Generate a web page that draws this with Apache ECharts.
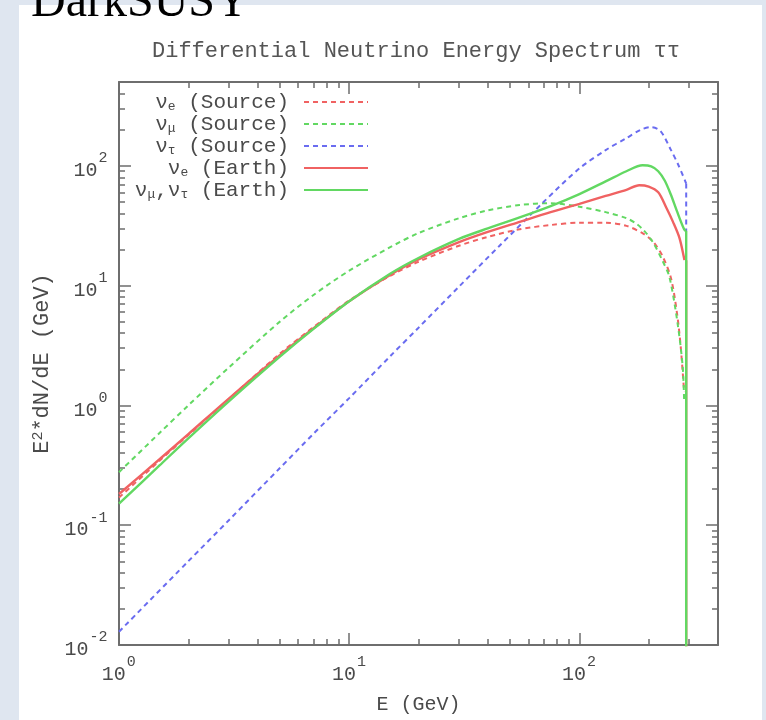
<!DOCTYPE html>
<html>
<head>
<meta charset="utf-8">
<title>DarkSUSY – Differential Neutrino Energy Spectrum</title>
<script src="https://cdn.jsdelivr.net/npm/echarts@6/dist/echarts.min.js"></script>
<style>
  html, body { margin: 0; padding: 0; background: #dfe6f0; }
  #chart { width: 766px; height: 720px; }
</style>
</head>
<body>
<div id="chart"></div>
<script>
// Axis ranges and tick positions (E in GeV, E^2 dN/dE in GeV)
const xRange = [1, 400];
const yRange = [0.01, 500];
const xMajorTicks = [1, 10, 100];
const yMajorTicks = [0.01, 0.1, 1, 10, 100];

// Legend labels, one per curve
const seriesNames = ['νe (Source)', 'νμ (Source)', 'ντ (Source)', 'νe (Earth)', 'νμ,ντ (Earth)'];

// nu_e at the source
const nueSourceE = [1, 1.5, 2, 3, 5, 7, 10, 15, 20, 30, 40, 55, 75, 100, 130, 160, 190, 210, 230, 250, 265, 275, 285];
const nueSourceV = [0.17, 0.345, 0.565, 1.13, 2.7, 4.5, 7.5, 12, 15.8, 21.5, 25.5, 29.5, 32, 33.5, 33.5, 31.5, 27, 23, 17.5, 11.5, 6, 3.2, 1.3];

// nu_mu at the source
const numuSourceE = [1, 1.5, 2, 3, 5, 7, 10, 15, 20, 30, 40, 55, 75, 100, 130, 160, 176, 190, 208, 230, 246, 267, 281, 285];
const numuSourceV = [0.277, 0.588, 1.0, 2.07, 5.0, 8.34, 13.3, 20.8, 27.4, 36.5, 42.4, 47, 48.7, 45.5, 41, 36.5, 33, 29, 23.2, 16, 11.8, 4.84, 2.1, 1.11];

// nu_tau at the source
const nutauSourceE = [1, 2, 3, 5, 7, 10, 15, 20, 30, 45, 70, 100, 130, 160, 185, 205, 225, 250, 270, 291];
const nutauSourceV = [0.0129, 0.05, 0.11, 0.3, 0.58, 1.15, 2.55, 4.45, 9.8, 21.5, 50, 95, 135, 170, 200, 210, 195, 135, 100, 71];

// nu_e at the Earth
const nueEarthE = [1, 1.5, 2, 3, 5, 7, 10, 15, 20, 30, 40, 55, 75, 100, 130, 160, 182, 200, 220, 238, 255, 272, 286];
const nueEarthV = [0.182, 0.355, 0.575, 1.14, 2.62, 4.4, 7.4, 12.2, 16.5, 23, 28, 34, 41, 48, 56, 63, 68.8, 67, 60, 45, 34, 25, 16.3];

// nu_mu, nu_tau at the Earth
const numuEarthE = [1, 1.5, 2, 3, 5, 7, 10, 15, 20, 30, 40, 55, 75, 100, 130, 160, 188, 205, 220, 235, 250, 265, 285, 291];
const numuEarthV = [0.151, 0.315, 0.53, 1.08, 2.55, 4.35, 7.4, 12.5, 17, 24.5, 30, 37, 46, 58, 74, 90, 101, 99, 90, 75, 57, 42, 29.5, 28.5];

// Cut-off at the end of the spectrum: each curve falls straight down here
const cutoffE = 291;
const nutauSourceDrop = [71, 28.5];
const nueEarthDrop = [16.3, 1e-4];
const numuEarthDrop = [28.5, 1e-4];

// Minor ticks at 2..9 of every decade inside a range
function minorTicks(lo, hi) {
  const out = [];
  for (let d = Math.floor(Math.log10(lo)); d <= Math.ceil(Math.log10(hi)); d++) {
    for (let m = 2; m <= 9; m++) {
      const v = +(m * Math.pow(10, d)).toPrecision(6);
      if (v > lo && v < hi) out.push(v);
    }
  }
  return out;
}
const xMinorTicks = minorTicks(xRange[0], xRange[1]);
const yMinorTicks = minorTicks(yRange[0], yRange[1]);

const pair = (xs, ys) => xs.map((x, i) => [x, ys[i]]);

const MONO = '"Liberation Mono", "DejaVu Sans Mono", monospace';
const TEXT = '#4a4a4a';
const FRAME = '#6e6e6e';
const RED = '#f06262';
const GREEN = '#62d862';
const BLUE = '#6a6cf0';

// "10" with the exponent raised as a superscript; the tiny strut sets a taller line
function powerLabel(v) {
  const e = Math.round(Math.log10(v));
  return '{b|10}{sup|' + e + '}{h| }';
}
const labelRich = {
  b: { fontFamily: MONO, fontSize: 20, color: TEXT, lineHeight: 20, verticalAlign: 'bottom' },
  sup: { fontFamily: MONO, fontSize: 15, color: TEXT, lineHeight: 15, verticalAlign: 'top', padding: [0, 0, 0, 1] },
  h: { fontFamily: MONO, fontSize: 1, lineHeight: 30 }
};

function logAxis(kind, position, ticks, tickLen, opts) {
  const range = kind === 'x' ? xRange : yRange;
  const axis = {
    type: 'log', logBase: 10, gridIndex: 0, position: position,
    min: range[0], max: range[1],
    splitLine: { show: false },
    minorTick: { show: false },
    minorSplitLine: { show: false },
    axisLine: { show: !!opts.line, lineStyle: { color: FRAME, width: 2 } },
    axisTick: { show: true, inside: true, length: tickLen, customValues: ticks,
                lineStyle: { color: FRAME, width: 1.5 } },
    axisLabel: { show: false },
    axisPointer: { show: false },
    silent: true
  };
  if (opts.labels) {
    axis.axisLabel = {
      show: true, customValues: ticks, formatter: powerLabel,
      fontFamily: MONO, fontSize: 20, color: TEXT, margin: opts.margin,
      rich: labelRich
    };
  }
  if (opts.name) {
    Object.assign(axis, opts.name);
  }
  return axis;
}

function lineSeries(name, data, color, dashed, smooth) {
  return {
    name: name, type: 'line', data: data,
    symbol: 'none', showSymbol: false,
    smooth: smooth, clip: true,
    lineStyle: { color: color, width: dashed ? 2 : 2.4, type: dashed ? [5, 4] : 'solid' },
    itemStyle: { color: color },
    emphasis: { disabled: true },
    animation: false
  };
}

const chart = echarts.init(document.getElementById('chart'), null, { renderer: 'canvas' });

chart.setOption({
  backgroundColor: '#dfe6f0',
  animation: false,
  graphic: [
    { type: 'rect', z: -10, silent: true,
      shape: { x: 19, y: 5, width: 743, height: 720 },
      style: { fill: '#ffffff' } },
    { type: 'text', z: 100, silent: true, x: 31, y: -21,
      style: { text: 'DarkSUSY', fontFamily: '"Liberation Serif", "DejaVu Serif", serif',
               fontSize: 48, fill: '#000000', align: 'left' } }
  ],
  title: {
    text: 'Differential Neutrino Energy Spectrum ττ',
    left: 152, top: 40, padding: 0,
    textStyle: { fontFamily: MONO, fontSize: 22, fontWeight: 'normal', color: '#555555' }
  },
  grid: { left: 119, top: 82, width: 599, height: 563, outerBoundsMode: 'none', containLabel: false },
  legend: {
    data: seriesNames,
    orient: 'vertical', align: 'right',
    right: 766 - 369, top: 91, padding: 0,
    itemWidth: 64, itemHeight: 22, itemGap: 0,
    selectedMode: false,
    itemStyle: { opacity: 0 },
    formatter: name => name.replace(/ν([eμτ])/g, '{n|ν}{s|$1}').replace(/\((\w+)\)/, '{p|($1)}'),
    textStyle: {
      fontFamily: MONO, fontSize: 21, color: TEXT, lineHeight: 22,
      rich: {
        n: { fontFamily: MONO, fontSize: 21, color: TEXT, lineHeight: 22 },
        s: { fontFamily: MONO, fontSize: 13, color: TEXT, lineHeight: 13, verticalAlign: 'bottom' },
        p: { fontFamily: MONO, fontSize: 21, color: TEXT, lineHeight: 22, padding: [0, 10, 0, 0] }
      }
    }
  },
  xAxis: [
    logAxis('x', 'bottom', xMajorTicks, 12, {
      line: true, labels: true, margin: 10,
      name: { name: 'E (GeV)', nameLocation: 'middle', nameGap: 50,
              nameTextStyle: { fontFamily: MONO, fontSize: 20, color: TEXT } }
    }),
    logAxis('x', 'bottom', xMinorTicks, 6, {}),
    logAxis('x', 'top', xMajorTicks, 12, { line: true }),
    logAxis('x', 'top', xMinorTicks, 6, {})
  ],
  yAxis: [
    logAxis('y', 'left', yMajorTicks, 12, {
      line: true, labels: true, margin: 11,
      name: { name: 'E{sup|2}*dN/dE (GeV)', nameLocation: 'middle', nameGap: 66,
              nameTextStyle: { fontFamily: MONO, fontSize: 22, color: TEXT,
                rich: { sup: { fontFamily: MONO, fontSize: 15, color: TEXT, verticalAlign: 'top', lineHeight: 15 } } } }
    }),
    logAxis('y', 'left', yMinorTicks, 6, {}),
    logAxis('y', 'right', yMajorTicks, 12, { line: true }),
    logAxis('y', 'right', yMinorTicks, 6, {})
  ],
  series: [
    lineSeries(seriesNames[0], pair(nueSourceE, nueSourceV), RED, true, 0.3),
    lineSeries(seriesNames[1], pair(numuSourceE, numuSourceV), GREEN, true, 0.3),
    lineSeries(seriesNames[2], pair(nutauSourceE, nutauSourceV), BLUE, true, 0.3),
    lineSeries(seriesNames[2] + ' cut-off', nutauSourceDrop.map(v => [cutoffE, v]), BLUE, true, false),
    lineSeries(seriesNames[3], pair(nueEarthE, nueEarthV), RED, false, 0.3),
    lineSeries(seriesNames[3] + ' cut-off', nueEarthDrop.map(v => [cutoffE, v]), RED, false, false),
    lineSeries(seriesNames[4], pair(numuEarthE, numuEarthV), GREEN, false, 0.3),
    lineSeries(seriesNames[4] + ' cut-off', numuEarthDrop.map(v => [cutoffE, v]), GREEN, false, false)
  ]
});
</script>
</body>
</html>
